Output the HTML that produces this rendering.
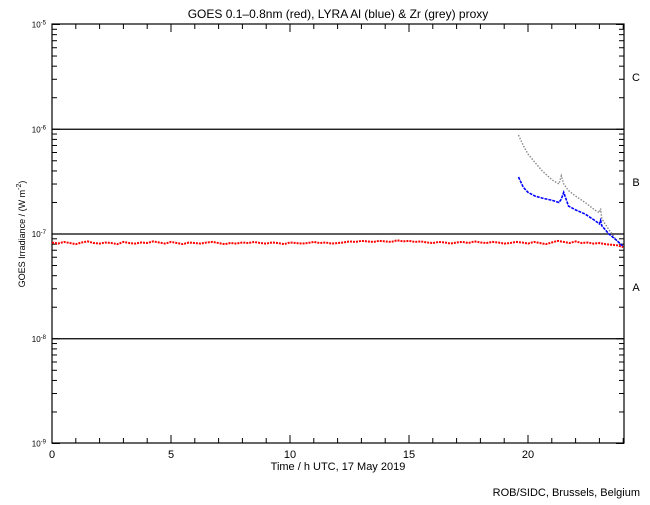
<!DOCTYPE html>
<html><head><meta charset="utf-8"><style>
body{margin:0;background:#fff}
svg text{font-family:"Liberation Sans",sans-serif;fill:#000}
</style></head><body>
<svg id="c" width="650" height="500" xmlns="http://www.w3.org/2000/svg">
<rect width="650" height="500" fill="#fff"/>
<text x="338" y="18" font-size="12" text-anchor="middle">GOES 0.1–0.8nm (red), LYRA Al (blue) &amp; Zr (grey) proxy</text>
<text x="338" y="470" font-size="11" text-anchor="middle">Time / h UTC, 17 May 2019</text>
<text x="640" y="496" font-size="11" text-anchor="end">ROB/SIDC, Brussels, Belgium</text>
<text transform="translate(25,234) rotate(-90)" font-size="9" text-anchor="middle">GOES Irradiance / (W m<tspan dy="-4" font-size="7">-2</tspan><tspan dy="4">)</tspan></text>
<text x="636" y="81" font-size="11" text-anchor="middle">C</text>
<text x="636" y="186" font-size="11" text-anchor="middle">B</text>
<text x="636" y="291" font-size="11" text-anchor="middle">A</text>
<g id="axes"></g>
<g id="series"></g>
</svg>
<script>
const xTicks=[0,5,10,15,20];
const yDecades=[-5,-6,-7,-8,-9];
const redT=[];for(let i=0;i<=96;i++)redT.push(i*0.25);
const redV=[8.3,8.1,8.4,8.2,8.0,8.3,8.5,8.2,8.1,8.3,8.2,8.0,8.4,8.2,8.1,8.3,8.2,8.5,8.3,8.1,8.4,8.2,8.0,8.3,8.2,8.1,8.3,8.4,8.2,8.0,8.2,8.1,8.3,8.2,8.4,8.2,8.1,8.3,8.2,8.0,8.3,8.2,8.1,8.2,8.4,8.2,8.3,8.1,8.2,8.3,8.5,8.4,8.6,8.5,8.4,8.6,8.5,8.4,8.7,8.5,8.6,8.4,8.5,8.3,8.2,8.4,8.3,8.1,8.3,8.4,8.2,8.5,8.3,8.2,8.4,8.3,8.1,8.2,8.4,8.3,8.1,8.4,8.2,8.0,8.3,8.6,8.4,8.2,8.5,8.2,8.3,8.1,8.2,8.0,7.9,7.8,7.5];
const blueT=[19.6,19.8,20.0,20.3,20.6,21.0,21.3,21.4,21.5,21.7,22.0,22.4,22.8,23.0,23.05,23.1,23.4,23.7,24.0];
const blueV=[35,28,25,23,22,21,20,21.5,25,18.5,17,15.5,13.5,12.5,13.5,12,10,8.8,7.6];
const greyT=[19.6,19.8,20.0,20.3,20.6,21.0,21.3,21.4,21.5,21.7,22.0,22.4,22.8,23.0,23.05,23.1,23.4,23.7,24.0];
const greyV=[88,70,58,48,40,33,30,36,30,26,23,20,17,16,17.5,14,11,8.8,7.5];
const X=h=>52+h*23.8, Y=v=>234-104.75*Math.log10(v/1e-7);
const NS="http://www.w3.org/2000/svg";
function mk(t,a,p){const e=document.createElementNS(NS,t);for(const k in a)e.setAttribute(k,a[k]);p.appendChild(e);return e;}
const ax=document.getElementById('axes'), se=document.getElementById('series');
const frame=mk('rect',{x:52,y:24,width:572,height:419,fill:'none',stroke:'#000','stroke-width':1.2},ax);


for(let h=0;h<=24;h++){const x=X(h),L=h%5==0?8:5;
 const t1=mk('line',{x1:x,x2:x,y1:443,y2:443-L,stroke:'#000'},ax);
 
 
 mk('line',{x1:x,x2:x,y1:24,y2:24+L,stroke:'#000'},ax);}
xTicks.forEach(h=>{const t=mk('text',{x:X(h),y:458,'font-size':11,'text-anchor':'middle'},ax);t.textContent=h;
 
 });
yDecades.forEach(d=>{const y=Y(Math.pow(10,d));
 if(d>-9&&d<-5){const g=mk('line',{x1:52,x2:624,y1:y,y2:y,stroke:'#000','stroke-width':1.2},ax);
  
  }
 const t=mk('text',{x:46,y:y+3,'font-size':8,'text-anchor':'end'},ax);
 
 
 t.innerHTML='10<tspan dy="-3" font-size="6">'+d+'</tspan>';
 if(d>-9)for(let m=2;m<=9;m++){const yy=Y(m*Math.pow(10,d-1));
  mk('line',{x1:52,x2:57,y1:yy,y2:yy,stroke:'#000'},ax);mk('line',{x1:624,x2:619,y1:yy,y2:yy,stroke:'#000'},ax);}
 mk('line',{x1:52,x2:60,y1:y,y2:y,stroke:'#000'},ax);mk('line',{x1:624,x2:616,y1:y,y2:y,stroke:'#000'},ax);
});
function draw(T,V,sc,col,name,w,dash){const pts=T.map((t,i)=>X(t)+','+Y(V[i]*sc)).join(' ');
 const p=mk('polyline',{points:pts,fill:'none',stroke:col,'stroke-width':w,'stroke-dasharray':dash},se);
 
 }
draw(greyT,greyV,1e-8,'#888','grey-series',1.4,'1.5 1.5');
draw(blueT,blueV,1e-8,'#00f','blue-series',1.6,'3 1');
draw(redT,redV,1e-8,'#f00','red-series',2,'2 1');
</script>
</body></html>
